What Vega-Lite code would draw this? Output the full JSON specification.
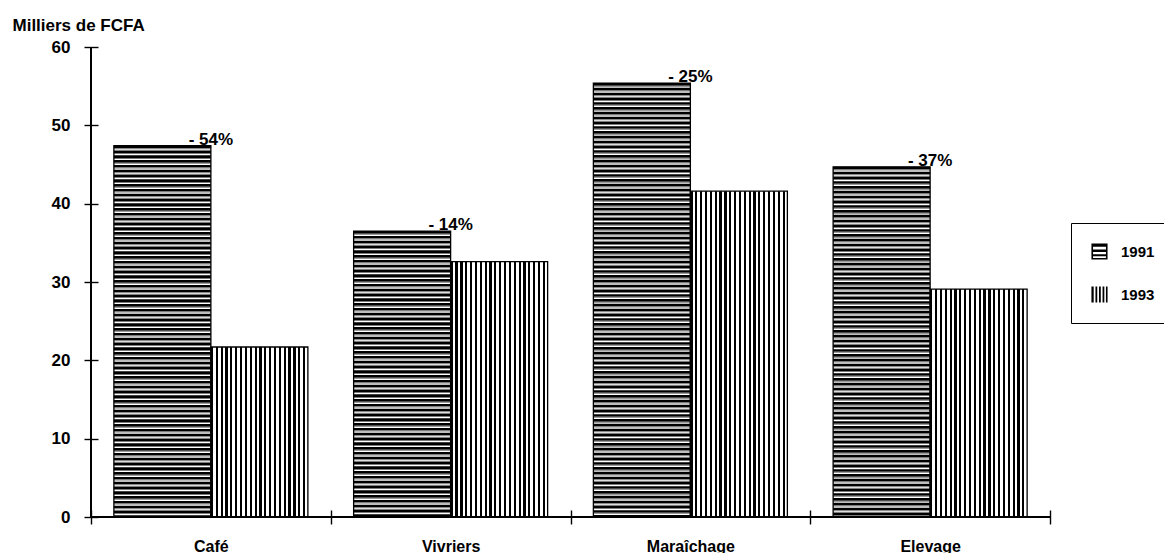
{
  "$schema": "https://vega.github.io/schema/vega-lite/v6.json",
  "width": 959,
  "height": 470,
  "autosize": {"type": "none"},
  "padding": {"left": 91, "top": 47, "right": 114, "bottom": 36},
  "background": "white",
  "config": {
    "view": {"stroke": null},
    "font": "Liberation Sans",
    "axis": {
      "labelFont": "Liberation Sans",
      "labelFontWeight": "bold",
      "labelColor": "#000",
      "tickColor": "#000",
      "tickWidth": 1.4,
      "grid": false,
      "domain": false,
      "titleFont": "Liberation Sans",
      "titleFontWeight": "bold",
      "titleColor": "#000"
    }
  },
  "data": {
    "values": [
      {"cat": "Café", "year": "1991", "value": 47.4, "label": "- 54%"},
      {"cat": "Café", "year": "1993", "value": 21.7, "label": null},
      {"cat": "Vivriers", "year": "1991", "value": 36.5, "label": "- 14%"},
      {"cat": "Vivriers", "year": "1993", "value": 32.6, "label": null},
      {"cat": "Maraîchage", "year": "1991", "value": 55.4, "label": "- 25%"},
      {"cat": "Maraîchage", "year": "1993", "value": 41.6, "label": null},
      {"cat": "Elevage", "year": "1991", "value": 44.7, "label": "- 37%"},
      {"cat": "Elevage", "year": "1993", "value": 29.1, "label": null}
    ]
  },
  "layer": [
    {
      "transform": [{"filter": "datum.year === '1991'"}],
      "mark": {"type": "rule", "stroke": "#000", "strokeWidth": 97, "strokeDash": [2.6, 2.2], "strokeCap": "butt"},
      "encoding": {
        "x": {
          "field": "cat", "type": "nominal", "sort": null,
          "scale": {"paddingInner": 0, "paddingOuter": 0},
          "axis": {
            "title": null, "labelAngle": 0, "labelFontSize": 16, "labelPadding": 14,
            "tickBand": "extent", "tickSize": 14, "offset": -7
          }
        },
        "xOffset": {"field": "year", "type": "nominal", "scale": {"domain": ["1991", "1993"], "paddingInner": 0, "paddingOuter": 0.2358}},
        "y": {
          "field": "value", "type": "quantitative",
          "scale": {"domain": [0, 60]},
          "axis": {
            "title": "Milliers de FCFA", "titleAngle": 0, "titleAlign": "left", "titleBaseline": "alphabetic",
            "titleX": -86, "titleY": -17, "titleFontSize": 17,
            "values": [0, 10, 20, 30, 40, 50, 60], "labelFontSize": 17, "labelPadding": 14,
            "tickSize": 14, "offset": -7
          }
        },
        "y2": {"datum": 0}
      }
    },
    {
      "transform": [{"filter": "datum.year === '1991'"}],
      "mark": {"type": "rule", "stroke": "#7a7a7a", "strokeWidth": 97, "strokeDash": [1, 3.8], "strokeDashOffset": 2.2, "strokeCap": "butt"},
      "encoding": {
        "x": {"field": "cat", "type": "nominal", "sort": null},
        "xOffset": {"field": "year", "type": "nominal"},
        "y": {"field": "value", "type": "quantitative"},
        "y2": {"datum": 0}
      }
    },
    {
      "transform": [{"filter": "datum.year === '1993'"}],
      "mark": {
        "type": "bar",
        "fill": {
          "gradient": "linear", "x1": 0, "y1": 0, "x2": 1, "y2": 0,
          "stops": [
            {"offset": 0, "color": "#000"}, {"offset": 0.0225, "color": "#000"}, {"offset": 0.0225, "color": "#fff"}, {"offset": 0.05, "color": "#fff"},
            {"offset": 0.05, "color": "#000"}, {"offset": 0.0725, "color": "#000"}, {"offset": 0.0725, "color": "#fff"}, {"offset": 0.1, "color": "#fff"},
            {"offset": 0.1, "color": "#000"}, {"offset": 0.1225, "color": "#000"}, {"offset": 0.1225, "color": "#fff"}, {"offset": 0.15, "color": "#fff"},
            {"offset": 0.15, "color": "#000"}, {"offset": 0.1725, "color": "#000"}, {"offset": 0.1725, "color": "#fff"}, {"offset": 0.2, "color": "#fff"},
            {"offset": 0.2, "color": "#000"}, {"offset": 0.2225, "color": "#000"}, {"offset": 0.2225, "color": "#fff"}, {"offset": 0.25, "color": "#fff"},
            {"offset": 0.25, "color": "#000"}, {"offset": 0.2725, "color": "#000"}, {"offset": 0.2725, "color": "#fff"}, {"offset": 0.3, "color": "#fff"},
            {"offset": 0.3, "color": "#000"}, {"offset": 0.3225, "color": "#000"}, {"offset": 0.3225, "color": "#fff"}, {"offset": 0.35, "color": "#fff"},
            {"offset": 0.35, "color": "#000"}, {"offset": 0.3725, "color": "#000"}, {"offset": 0.3725, "color": "#fff"}, {"offset": 0.4, "color": "#fff"},
            {"offset": 0.4, "color": "#000"}, {"offset": 0.4225, "color": "#000"}, {"offset": 0.4225, "color": "#fff"}, {"offset": 0.45, "color": "#fff"},
            {"offset": 0.45, "color": "#000"}, {"offset": 0.4725, "color": "#000"}, {"offset": 0.4725, "color": "#fff"}, {"offset": 0.5, "color": "#fff"},
            {"offset": 0.5, "color": "#000"}, {"offset": 0.5225, "color": "#000"}, {"offset": 0.5225, "color": "#fff"}, {"offset": 0.55, "color": "#fff"},
            {"offset": 0.55, "color": "#000"}, {"offset": 0.5725, "color": "#000"}, {"offset": 0.5725, "color": "#fff"}, {"offset": 0.6, "color": "#fff"},
            {"offset": 0.6, "color": "#000"}, {"offset": 0.6225, "color": "#000"}, {"offset": 0.6225, "color": "#fff"}, {"offset": 0.65, "color": "#fff"},
            {"offset": 0.65, "color": "#000"}, {"offset": 0.6725, "color": "#000"}, {"offset": 0.6725, "color": "#fff"}, {"offset": 0.7, "color": "#fff"},
            {"offset": 0.7, "color": "#000"}, {"offset": 0.7225, "color": "#000"}, {"offset": 0.7225, "color": "#fff"}, {"offset": 0.75, "color": "#fff"},
            {"offset": 0.75, "color": "#000"}, {"offset": 0.7725, "color": "#000"}, {"offset": 0.7725, "color": "#fff"}, {"offset": 0.8, "color": "#fff"},
            {"offset": 0.8, "color": "#000"}, {"offset": 0.8225, "color": "#000"}, {"offset": 0.8225, "color": "#fff"}, {"offset": 0.85, "color": "#fff"},
            {"offset": 0.85, "color": "#000"}, {"offset": 0.8725, "color": "#000"}, {"offset": 0.8725, "color": "#fff"}, {"offset": 0.9, "color": "#fff"},
            {"offset": 0.9, "color": "#000"}, {"offset": 0.9225, "color": "#000"}, {"offset": 0.9225, "color": "#fff"}, {"offset": 0.95, "color": "#fff"},
            {"offset": 0.95, "color": "#000"}, {"offset": 0.9725, "color": "#000"}, {"offset": 0.9725, "color": "#fff"}, {"offset": 1, "color": "#fff"}
          ]
        }
      },
      "encoding": {
        "x": {"field": "cat", "type": "nominal", "sort": null},
        "xOffset": {"field": "year", "type": "nominal"},
        "y": {"field": "value", "type": "quantitative"}
      }
    },
    {
      "mark": {"type": "bar", "fill": "transparent", "stroke": "#000", "strokeWidth": 1.3},
      "encoding": {
        "x": {"field": "cat", "type": "nominal", "sort": null},
        "xOffset": {"field": "year", "type": "nominal"},
        "y": {"field": "value", "type": "quantitative"}
      }
    },
    {
      "mark": {"type": "point", "filled": true, "fill": "#000", "size": 0, "strokeWidth": 0, "opacity": 1},
      "encoding": {
        "x": {"field": "cat", "type": "nominal", "sort": null},
        "xOffset": {"field": "year", "type": "nominal"},
        "y": {"field": "value", "type": "quantitative"},
        "shape": {
          "field": "year", "type": "nominal",
          "scale": {
            "domain": ["1991", "1993"],
            "range": [
              "M-1,-1H1V-0.6H-1Z M-1,-0.25H1V0.05H-1Z M-1,0.35H1V0.6H-1Z M-1,0.8H1V1H-1Z M-1,-1H-0.8V1H-1Z M0.8,-1H1V1H0.8Z",
              "M-1,-1H-0.72V1H-1Z M-0.5,-1H-0.28V1H-0.5Z M-0.06,-1H0.16V1H-0.06Z M0.38,-1H0.6V1H0.38Z M0.8,-1H1V1H0.8Z"
            ]
          },
          "legend": {
            "title": null,
            "orient": "none",
            "legendX": 980,
            "legendY": 176,
            "padding": 20,
            "rowPadding": 26,
            "labelOffset": 13,
            "symbolSize": 260,
            "symbolFillColor": "#000",
            "symbolStrokeColor": "transparent",
            "symbolStrokeWidth": 0,
            "symbolOpacity": 1,
            "labelFont": "Liberation Sans",
            "labelFontSize": 15,
            "labelFontWeight": "bold",
            "labelColor": "#000",
            "strokeColor": "#000",
            "fillColor": "#fff"
          }
        }
      }
    },
    {
      "transform": [{"filter": "datum.label !== null"}],
      "mark": {"type": "text", "font": "Liberation Sans", "fontWeight": "bold", "fontSize": 17, "align": "center", "baseline": "alphabetic", "dy": -1, "color": "#000"},
      "encoding": {
        "x": {"field": "cat", "type": "nominal", "sort": null},
        "y": {"field": "value", "type": "quantitative"},
        "text": {"field": "label"}
      }
    },
    {
      "mark": {"type": "rule", "stroke": "#000", "strokeWidth": 1.5},
      "encoding": {
        "x": {"datum": "Café", "type": "nominal", "bandPosition": 0},
        "y": {"datum": 0, "type": "quantitative"},
        "y2": {"datum": 60}
      }
    },
    {
      "mark": {"type": "rule", "stroke": "#000", "strokeWidth": 1.5},
      "encoding": {
        "y": {"datum": 0, "type": "quantitative"}
      }
    }
  ]
}
